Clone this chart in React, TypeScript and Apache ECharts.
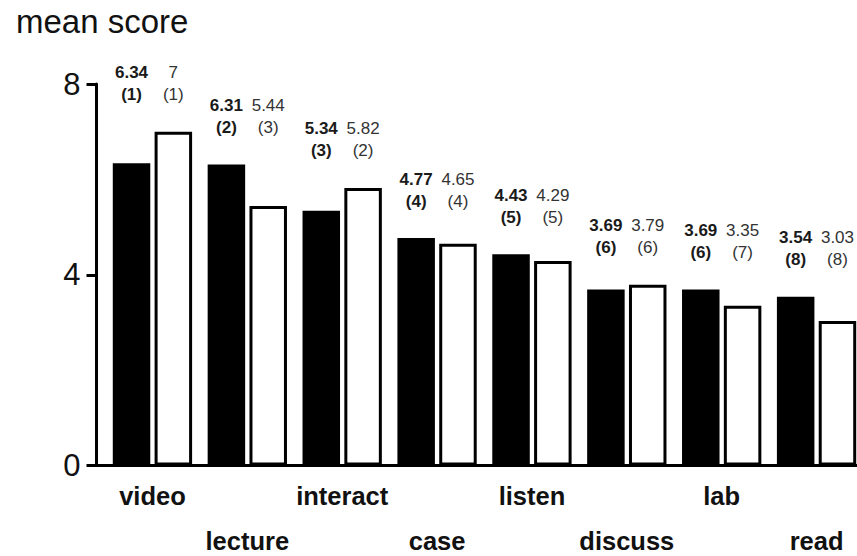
import React, { useEffect, useRef } from "react";
import * as echarts from "echarts";

const categories = ["video", "lecture", "interact", "case", "listen", "discuss", "lab", "read"];
const blackValues = [6.34, 6.31, 5.34, 4.77, 4.43, 3.69, 3.69, 3.54];
const whiteValues = [7, 5.44, 5.82, 4.65, 4.29, 3.79, 3.35, 3.03];
const blackRanks = [1, 2, 3, 4, 5, 6, 6, 8];
const whiteRanks = [1, 3, 2, 4, 5, 6, 7, 8];
const yTicks = [0, 4, 8];

const FONT = "'Liberation Sans', Arial, sans-serif";

export default function App() {
  const ref = useRef<HTMLDivElement>(null);
  useEffect(() => {
    if (!ref.current) return;
    const chart = echarts.init(ref.current, null, { renderer: "svg" });
    const pairMax = blackValues.map((v, i) => Math.max(v, whiteValues[i]));
    const gridLeft = 105;
    const axisOffset = 8.5;
    const barW = 37.5;
    const labelCommon = {
      show: true,
      position: "top" as const,
      distance: 26,
      fontFamily: FONT,
      lineHeight: 22,
    };
    const catText = { fontFamily: FONT, fontSize: 25.5, fontWeight: "bold" as const, color: "#111" };
    chart.setOption({
      animation: false,
      backgroundColor: "#ffffff",
      title: {
        text: "mean score",
        left: 11,
        top: 0,
        textStyle: { fontFamily: FONT, fontSize: 33, fontWeight: "normal", color: "#111" },
      },
      grid: {
        left: gridLeft,
        top: 84,
        width: 759,
        height: 381.5,
        containLabel: false,
        outerBoundsMode: "none",
      },
      xAxis: {
        type: "category",
        data: categories,
        axisTick: { show: false },
        axisLine: { lineStyle: { color: "#000", width: 3 } },
        axisLabel: {
          interval: 0,
          margin: 7,
          ...catText,
          formatter: (v: string, i: number) => (i % 2 === 1 ? `{gap| }\n{low|${v}}` : `{up|${v}}`),
          rich: {
            up: { ...catText, lineHeight: 47 },
            gap: { fontFamily: FONT, fontSize: 10, lineHeight: 56 },
            low: { ...catText, lineHeight: 24 },
          },
        },
      },
      yAxis: {
        type: "value",
        min: yTicks[0],
        max: yTicks[yTicks.length - 1],
        interval: 4,
        offset: axisOffset,
        splitLine: { show: false },
        axisLine: { show: true, lineStyle: { color: "#000", width: 3 } },
        axisTick: { show: true, length: 10, lineStyle: { color: "#000", width: 3 } },
        axisLabel: { margin: 16, fontFamily: FONT, fontSize: 31, color: "#111" },
      },
      series: [
        {
          type: "bar",
          stack: "a",
          data: blackValues,
          barWidth: barW,
          barGap: "11.5%",
          itemStyle: { color: "#000" },
        },
        {
          type: "bar",
          stack: "b",
          data: whiteValues,
          barWidth: barW,
          barGap: "11.5%",
          itemStyle: { color: "#fff", borderColor: "#000", borderWidth: 3 },
        },
        {
          type: "bar",
          stack: "a",
          data: pairMax.map((m, i) => m - blackValues[i]),
          barWidth: barW,
          itemStyle: { color: "rgba(0,0,0,0)" },
          label: {
            ...labelCommon,
            formatter: (p: any) =>
              `{b|${blackValues[p.dataIndex].toFixed(2)}}\n{b|(${blackRanks[p.dataIndex]})}`,
            rich: {
              b: { fontFamily: FONT, fontSize: 17, fontWeight: "bold", color: "#1a1a1a", lineHeight: 22 },
            },
          },
        },
        {
          type: "bar",
          stack: "b",
          data: pairMax.map((m, i) => m - whiteValues[i]),
          barWidth: barW,
          itemStyle: { color: "rgba(0,0,0,0)" },
          label: {
            ...labelCommon,
            formatter: (p: any) => {
              const v = whiteValues[p.dataIndex];
              const s = Number.isInteger(v) ? String(v) : v.toFixed(2);
              return `{n|${s}}\n{n|(${whiteRanks[p.dataIndex]})}`;
            },
            rich: {
              n: { fontFamily: FONT, fontSize: 17, fontWeight: "normal", color: "#333", lineHeight: 22 },
            },
          },
        },
      ],
    });
    const y0 = chart.convertToPixel({ yAxisIndex: 0 }, 0) as number;
    chart.setOption({
      graphic: [
        {
          type: "line",
          shape: { x1: gridLeft - axisOffset - 1, y1: y0, x2: gridLeft + 1, y2: y0 },
          style: { stroke: "#000", lineWidth: 3 },
        },
      ],
    });
    return () => chart.dispose();
  }, []);
  return (
    <div
      ref={ref}
      style={{ position: "absolute", left: 0, top: 0, width: 857, height: 556 }}
    />
  );
}
